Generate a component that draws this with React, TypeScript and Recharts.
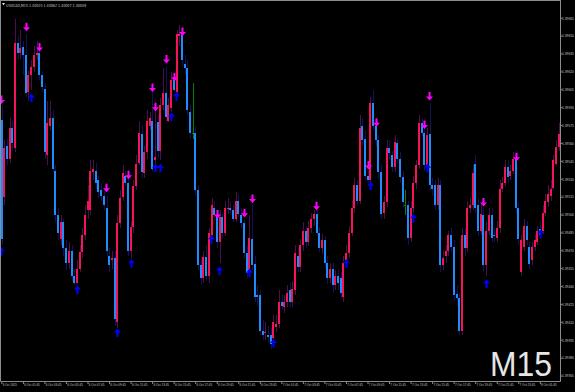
import React from "react";
import { ComposedChart, Bar, Line, XAxis, YAxis } from "recharts";

// USDCAD M15 candles, bar 0 = 6 Oct 2025
const opens = [
  1.39580, 1.39515, 1.39558, 1.39547, 1.39573, 1.39556, 1.39644, 1.39636, 1.39641, 1.39634,
  1.39603, 1.39617, 1.39624, 1.39634, 1.39636, 1.39617, 1.39606, 1.39550, 1.39575, 1.39581,
  1.39537, 1.39500, 1.39480, 1.39494, 1.39472, 1.39460, 1.39470, 1.39449, 1.39443, 1.39455,
  1.39469, 1.39483, 1.39504, 1.39504, 1.39536, 1.39537, 1.39529, 1.39521, 1.39516, 1.39506,
  1.39466, 1.39462, 1.39464, 1.39410, 1.39493, 1.39515, 1.39533, 1.39527, 1.39470, 1.39490,
  1.39524, 1.39544, 1.39568, 1.39535, 1.39553, 1.39575, 1.39579, 1.39546, 1.39578, 1.39554,
  1.39592, 1.39602, 1.39579, 1.39590, 1.39613, 1.39603, 1.39650, 1.39651, 1.39627, 1.39623,
  1.39586, 1.39569, 1.39569, 1.39521, 1.39458, 1.39447, 1.39465, 1.39449, 1.39483, 1.39506,
  1.39500, 1.39477, 1.39498, 1.39485, 1.39505, 1.39506, 1.39504, 1.39497, 1.39512, 1.39500,
  1.39493, 1.39468, 1.39454, 1.39480, 1.39459, 1.39433, 1.39433, 1.39403, 1.39401, 1.39399,
  1.39399, 1.39397, 1.39406, 1.39409, 1.39427, 1.39423, 1.39427, 1.39437, 1.39427, 1.39437,
  1.39466, 1.39456, 1.39475, 1.39487, 1.39477, 1.39489, 1.39497, 1.39501, 1.39485, 1.39472,
  1.39479, 1.39460, 1.39447, 1.39455, 1.39441, 1.39449, 1.39447, 1.39431, 1.39462, 1.39468,
  1.39485, 1.39506, 1.39525, 1.39512, 1.39575, 1.39564, 1.39533, 1.39529, 1.39594, 1.39575,
  1.39563, 1.39536, 1.39502, 1.39511, 1.39556, 1.39550, 1.39540, 1.39560, 1.39547, 1.39532,
  1.39508, 1.39508, 1.39481, 1.39506, 1.39527, 1.39542, 1.39577, 1.39569, 1.39542, 1.39568,
  1.39525, 1.39525, 1.39508, 1.39525, 1.39458, 1.39466, 1.39470, 1.39483, 1.39473, 1.39434,
  1.39430, 1.39403, 1.39483, 1.39472, 1.39506, 1.39508, 1.39543, 1.39508, 1.39487, 1.39500,
  1.39458, 1.39487, 1.39500, 1.39483, 1.39481, 1.39489, 1.39522, 1.39527, 1.39540, 1.39533,
  1.39537, 1.39547, 1.39506, 1.39452, 1.39473, 1.39491, 1.39473, 1.39462, 1.39473, 1.39477,
  1.39488, 1.39487, 1.39502, 1.39511, 1.39516, 1.39523, 1.39543, 1.39557,
];

const highs = [
  1.39592, 1.39563, 1.39564, 1.39581, 1.39579, 1.39664, 1.39651, 1.39655, 1.39646, 1.39652,
  1.39621, 1.39630, 1.39642, 1.39646, 1.39638, 1.39621, 1.39611, 1.39596, 1.39596, 1.39588,
  1.39542, 1.39506, 1.39500, 1.39497, 1.39479, 1.39477, 1.39475, 1.39455, 1.39462, 1.39475,
  1.39489, 1.39508, 1.39525, 1.39546, 1.39546, 1.39544, 1.39533, 1.39527, 1.39519, 1.39516,
  1.39472, 1.39470, 1.39470, 1.39500, 1.39521, 1.39542, 1.39537, 1.39531, 1.39495, 1.39529,
  1.39550, 1.39579, 1.39575, 1.39558, 1.39588, 1.39586, 1.39603, 1.39588, 1.39584, 1.39598,
  1.39623, 1.39624, 1.39598, 1.39620, 1.39613, 1.39655, 1.39659, 1.39652, 1.39634, 1.39630,
  1.39592, 1.39611, 1.39575, 1.39525, 1.39464, 1.39470, 1.39475, 1.39489, 1.39514, 1.39512,
  1.39502, 1.39504, 1.39502, 1.39512, 1.39514, 1.39512, 1.39508, 1.39519, 1.39518, 1.39506,
  1.39497, 1.39475, 1.39500, 1.39508, 1.39466, 1.39441, 1.39437, 1.39412, 1.39410, 1.39407,
  1.39405, 1.39416, 1.39416, 1.39437, 1.39433, 1.39433, 1.39441, 1.39443, 1.39445, 1.39475,
  1.39472, 1.39480, 1.39494, 1.39491, 1.39495, 1.39502, 1.39504, 1.39504, 1.39490, 1.39484,
  1.39482, 1.39466, 1.39460, 1.39460, 1.39454, 1.39454, 1.39452, 1.39466, 1.39475, 1.39491,
  1.39512, 1.39531, 1.39529, 1.39584, 1.39581, 1.39571, 1.39537, 1.39599, 1.39605, 1.39575,
  1.39567, 1.39542, 1.39516, 1.39563, 1.39563, 1.39554, 1.39567, 1.39564, 1.39553, 1.39537,
  1.39521, 1.39512, 1.39512, 1.39533, 1.39546, 1.39584, 1.39581, 1.39573, 1.39573, 1.39594,
  1.39531, 1.39529, 1.39531, 1.39529, 1.39470, 1.39475, 1.39487, 1.39489, 1.39479, 1.39441,
  1.39435, 1.39489, 1.39489, 1.39512, 1.39514, 1.39542, 1.39550, 1.39514, 1.39508, 1.39506,
  1.39494, 1.39506, 1.39506, 1.39489, 1.39495, 1.39529, 1.39532, 1.39546, 1.39546, 1.39542,
  1.39553, 1.39548, 1.39511, 1.39483, 1.39497, 1.39495, 1.39477, 1.39477, 1.39483, 1.39491,
  1.39494, 1.39508, 1.39518, 1.39525, 1.39529, 1.39550, 1.39563, 1.39577,
];

const lows = [
  1.39475, 1.39508, 1.39542, 1.39544, 1.39554, 1.39553, 1.39630, 1.39631, 1.39617, 1.39599,
  1.39596, 1.39605, 1.39620, 1.39630, 1.39613, 1.39603, 1.39547, 1.39542, 1.39571, 1.39536,
  1.39494, 1.39479, 1.39475, 1.39466, 1.39454, 1.39455, 1.39445, 1.39441, 1.39442, 1.39452,
  1.39464, 1.39479, 1.39497, 1.39500, 1.39529, 1.39522, 1.39514, 1.39512, 1.39504, 1.39466,
  1.39452, 1.39455, 1.39407, 1.39405, 1.39489, 1.39512, 1.39524, 1.39466, 1.39464, 1.39485,
  1.39521, 1.39542, 1.39531, 1.39531, 1.39547, 1.39571, 1.39537, 1.39542, 1.39547, 1.39546,
  1.39588, 1.39579, 1.39578, 1.39586, 1.39603, 1.39600, 1.39642, 1.39625, 1.39617, 1.39584,
  1.39564, 1.39564, 1.39516, 1.39454, 1.39441, 1.39443, 1.39445, 1.39443, 1.39480, 1.39495,
  1.39472, 1.39460, 1.39480, 1.39482, 1.39501, 1.39500, 1.39494, 1.39494, 1.39498, 1.39489,
  1.39464, 1.39447, 1.39449, 1.39454, 1.39427, 1.39424, 1.39399, 1.39395, 1.39395, 1.39393,
  1.39388, 1.39395, 1.39402, 1.39405, 1.39420, 1.39418, 1.39423, 1.39422, 1.39423, 1.39433,
  1.39452, 1.39452, 1.39470, 1.39472, 1.39474, 1.39485, 1.39491, 1.39482, 1.39469, 1.39467,
  1.39455, 1.39442, 1.39443, 1.39435, 1.39437, 1.39437, 1.39430, 1.39427, 1.39461, 1.39464,
  1.39482, 1.39502, 1.39508, 1.39509, 1.39558, 1.39529, 1.39527, 1.39527, 1.39571, 1.39558,
  1.39531, 1.39497, 1.39497, 1.39507, 1.39546, 1.39536, 1.39536, 1.39544, 1.39527, 1.39506,
  1.39500, 1.39475, 1.39477, 1.39502, 1.39522, 1.39539, 1.39566, 1.39537, 1.39541, 1.39521,
  1.39516, 1.39504, 1.39504, 1.39452, 1.39454, 1.39460, 1.39466, 1.39469, 1.39428, 1.39424,
  1.39399, 1.39399, 1.39466, 1.39469, 1.39502, 1.39504, 1.39502, 1.39482, 1.39483, 1.39452,
  1.39449, 1.39483, 1.39477, 1.39477, 1.39477, 1.39485, 1.39519, 1.39524, 1.39527, 1.39529,
  1.39534, 1.39501, 1.39475, 1.39449, 1.39470, 1.39475, 1.39455, 1.39458, 1.39470, 1.39475,
  1.39480, 1.39484, 1.39499, 1.39507, 1.39512, 1.39521, 1.39541, 1.39554,
];

const closes = [
  1.39480, 1.39556, 1.39547, 1.39573, 1.39560, 1.39644, 1.39636, 1.39640, 1.39634, 1.39602,
  1.39617, 1.39624, 1.39634, 1.39636, 1.39617, 1.39607, 1.39553, 1.39577, 1.39581, 1.39539,
  1.39500, 1.39485, 1.39494, 1.39472, 1.39460, 1.39470, 1.39449, 1.39443, 1.39455, 1.39469,
  1.39483, 1.39500, 1.39512, 1.39537, 1.39539, 1.39527, 1.39519, 1.39516, 1.39508, 1.39470,
  1.39458, 1.39464, 1.39413, 1.39493, 1.39514, 1.39535, 1.39527, 1.39470, 1.39490, 1.39524,
  1.39543, 1.39569, 1.39536, 1.39553, 1.39579, 1.39581, 1.39539, 1.39549, 1.39554, 1.39592,
  1.39602, 1.39582, 1.39592, 1.39613, 1.39605, 1.39652, 1.39652, 1.39630, 1.39623, 1.39588,
  1.39569, 1.39569, 1.39521, 1.39458, 1.39447, 1.39465, 1.39449, 1.39485, 1.39508, 1.39500,
  1.39477, 1.39498, 1.39485, 1.39506, 1.39506, 1.39504, 1.39497, 1.39512, 1.39501, 1.39493,
  1.39468, 1.39451, 1.39481, 1.39458, 1.39431, 1.39431, 1.39403, 1.39399, 1.39402, 1.39398,
  1.39392, 1.39410, 1.39409, 1.39427, 1.39424, 1.39427, 1.39435, 1.39427, 1.39438, 1.39468,
  1.39456, 1.39475, 1.39487, 1.39477, 1.39489, 1.39497, 1.39501, 1.39485, 1.39472, 1.39479,
  1.39460, 1.39447, 1.39455, 1.39441, 1.39449, 1.39443, 1.39435, 1.39460, 1.39468, 1.39485,
  1.39506, 1.39525, 1.39512, 1.39573, 1.39563, 1.39533, 1.39529, 1.39594, 1.39575, 1.39563,
  1.39536, 1.39501, 1.39511, 1.39556, 1.39552, 1.39540, 1.39561, 1.39547, 1.39532, 1.39511,
  1.39508, 1.39481, 1.39506, 1.39527, 1.39542, 1.39577, 1.39569, 1.39542, 1.39567, 1.39525,
  1.39522, 1.39508, 1.39525, 1.39458, 1.39464, 1.39470, 1.39483, 1.39473, 1.39433, 1.39430,
  1.39403, 1.39483, 1.39472, 1.39506, 1.39508, 1.39535, 1.39506, 1.39487, 1.39501, 1.39458,
  1.39487, 1.39500, 1.39481, 1.39482, 1.39489, 1.39522, 1.39527, 1.39540, 1.39532, 1.39537,
  1.39547, 1.39506, 1.39480, 1.39479, 1.39491, 1.39479, 1.39459, 1.39473, 1.39479, 1.39487,
  1.39483, 1.39502, 1.39512, 1.39518, 1.39522, 1.39546, 1.39557, 1.39568,
];

// signal arrows: bar index + price where the arrow sits
const sellBars = [0, 9, 14, 39, 47, 56, 57, 61, 64, 67, 80, 90, 93, 117, 136, 139, 157, 159, 179, 191];
const sellPrices = [
  1.39596, 1.39657, 1.39640, 1.39522, 1.39533, 1.39606, 1.39590, 1.39630, 1.39615, 1.39653,
  1.39500, 1.39501, 1.39513, 1.39507, 1.39541, 1.39577, 1.39575, 1.39599, 1.39510, 1.39548,
];
const buyBars = [0, 11, 28, 43, 48, 57, 59, 63, 65, 78, 81, 92, 101, 128, 137, 153, 158, 180, 200];
const buyPrices = [
  1.39470, 1.39599, 1.39438, 1.39402, 1.39460, 1.39540, 1.39540, 1.39583, 1.39600, 1.39480,
  1.39454, 1.39452, 1.39393, 1.39460, 1.39525, 1.39498, 1.39540, 1.39443, 1.39485,
];

const priceTicks = [
  1.39365, 1.3938, 1.39395, 1.3941, 1.39425, 1.3944, 1.39455, 1.3947, 1.39485, 1.395, 1.39515,
  1.3953, 1.39545, 1.3956, 1.39575, 1.3959, 1.39605, 1.3962, 1.39635, 1.3965, 1.39665,
];
const timeTickBars = [
  0, 8, 16, 24, 32, 40, 48, 56, 64, 72, 80, 88, 96, 104, 112, 120, 128, 136, 144, 152, 160, 168, 176, 184,
  192, 200,
];
const timeLabels = [
  "6 Oct 2025", "6 Oct 01:45", "6 Oct 03:45", "6 Oct 05:45", "6 Oct 07:45", "6 Oct 09:45", "6 Oct 11:45",
  "6 Oct 13:45", "6 Oct 15:45", "6 Oct 17:45", "6 Oct 19:45", "6 Oct 21:45", "6 Oct 23:45", "7 Oct 01:45",
  "7 Oct 03:45", "7 Oct 05:45", "7 Oct 07:45", "7 Oct 09:45", "7 Oct 11:45", "7 Oct 13:45", "7 Oct 15:45",
  "7 Oct 17:45", "7 Oct 19:45", "7 Oct 21:45", "7 Oct 23:45", "8 Oct 01:45",
];

const BULL = "#f5145a";
const BEAR = "#1e8cff";
const BULL_WICK = "#4a0f4c";
const BEAR_WICK = "#12125a";
const DOJI = "#0c7a12";
const AXIS = "#8c8c8c";
const TEXT = "#c4c4c4";

const rows = opens.map((open, i) => {
  const s = sellBars.indexOf(i);
  const b = buyBars.indexOf(i);
  return {
    idx: i,
    open,
    high: highs[i],
    low: lows[i],
    close: closes[i],
    range: [lows[i], highs[i]],
    sell: s >= 0 ? sellPrices[s] : null,
    buy: b >= 0 ? buyPrices[b] : null,
  };
});

function Candle(props: any) {
  const { x, y, width, height } = props;
  const d = props.payload || props;
  if (x == null || y == null || d.high == null) return <g />;
  const top = Math.min(y, y + height);
  const h = Math.abs(height);
  const span = d.high - d.low || 1;
  const py = (v: number) => top + ((d.high - v) / span) * h;
  const cx = Math.floor(x + width / 2);
  const doji = d.open === d.close;
  const up = d.close > d.open;
  const wick = doji ? DOJI : up ? BULL_WICK : BEAR_WICK;
  const body = doji ? DOJI : up ? BULL : BEAR;
  const y1 = py(Math.max(d.open, d.close));
  const y2 = py(Math.min(d.open, d.close));
  return (
    <g shapeRendering="crispEdges">
      <rect x={cx} y={top} width={1} height={Math.max(h, 1)} fill={wick} />
      {doji ? (
        <rect x={cx - 1} y={Math.round(y1)} width={2} height={1} fill={body} />
      ) : (
        <rect x={cx - 1} y={y1} width={2} height={Math.max(y2 - y1, 1)} fill={body} />
      )}
    </g>
  );
}

function SellArrow(props: any) {
  const { cx, cy, index, payload } = props;
  if (cx == null || cy == null || payload?.sell == null) return <g key={`s${index}`} />;
  const c = Math.floor(cx);
  return (
    <path
      key={`s${index}`}
      d={`M${c - 0.5} ${cy - 5} h2 v4.5 h2.5 l-3.5 4 l-3.5 -4 h2.5 z`}
      fill="#ff00ff"
    />
  );
}

function BuyArrow(props: any) {
  const { cx, cy, index, payload } = props;
  if (cx == null || cy == null || payload?.buy == null) return <g key={`b${index}`} />;
  const c = Math.floor(cx);
  return (
    <path
      key={`b${index}`}
      d={`M${c - 0.5} ${cy + 5} h2 v-4.5 h2.5 l-3.5 -4 l-3.5 4 h2.5 z`}
      fill="#0000ff"
    />
  );
}

function PriceTick(props: any) {
  const { x, y, payload } = props;
  return (
    <text x={x - 0.5} y={y + 1.3} fontSize={3.3} fill={TEXT} fontFamily="Liberation Sans">
      {Number(payload.value).toFixed(5)}
    </text>
  );
}

function TimeTick(props: any) {
  const { x, y, payload } = props;
  const k = timeTickBars.indexOf(Number(payload.value));
  const label = k >= 0 ? timeLabels[k] : "";
  return (
    <text x={x + 0.8} y={y + 2.2} fontSize={3.4} fill={TEXT} fontFamily="Liberation Sans" textLength={label.length * 1.42} lengthAdjust="spacingAndGlyphs">
      {label}
    </text>
  );
}

export default function App() {
  return (
    <div style={{ position: "absolute", left: 0, top: 0, width: 575, height: 392, background: "#000", overflow: "hidden" }}>
      <ComposedChart
        width={575}
        height={392}
        data={rows}
        margin={{ top: 0, right: 0, bottom: 0, left: 0.5 }}
        barCategoryGap={0}
        barGap={0}
      >
        <XAxis
          dataKey="idx"
          type="category"
          ticks={timeTickBars}
          interval={0}
          height={10.5}
          tickSize={2.5}
          tickMargin={0}
          tick={TimeTick}
          tickLine={{ stroke: AXIS }}
          axisLine={{ stroke: AXIS }}
        />
        <YAxis
          orientation="right"
          type="number"
          domain={[1.393604, 1.396803]}
          allowDataOverflow
          ticks={priceTicks}
          interval={0}
          width={14.5}
          tickSize={2}
          tickMargin={0}
          tick={PriceTick}
          tickLine={{ stroke: AXIS }}
          axisLine={{ stroke: AXIS }}
        />
        <Bar dataKey="range" shape={Candle} isAnimationActive={false} />
        <Line dataKey="sell" stroke="none" dot={SellArrow} activeDot={false} isAnimationActive={false} legendType="none" />
        <Line dataKey="buy" stroke="none" dot={BuyArrow} activeDot={false} isAnimationActive={false} legendType="none" />
      </ComposedChart>
      <svg width={575} height={392} style={{ position: "absolute", left: 0, top: 0, pointerEvents: "none" }}>
        <line x1={0.5} y1={0} x2={0.5} y2={381.5} stroke={AXIS} />
        <line x1={0} y1={0.5} x2={560.5} y2={0.5} stroke={AXIS} />
        <path d="M2 3 L5 3 L3.5 5.5 Z" fill="#e0e0e0" />
        <text x={6} y={6.6} fontSize={4.2} fill={TEXT} fontFamily="DejaVu Sans" textLength={80} lengthAdjust="spacingAndGlyphs">
          USDCAD,M15 1.40025 1.40062 1.40007 1.40049
        </text>
        <text x={490} y={375.5} fontSize={35} fill="#e6e6e6" fontFamily="Liberation Sans" textLength={62} lengthAdjust="spacingAndGlyphs">
          M15
        </text>
      </svg>
    </div>
  );
}
